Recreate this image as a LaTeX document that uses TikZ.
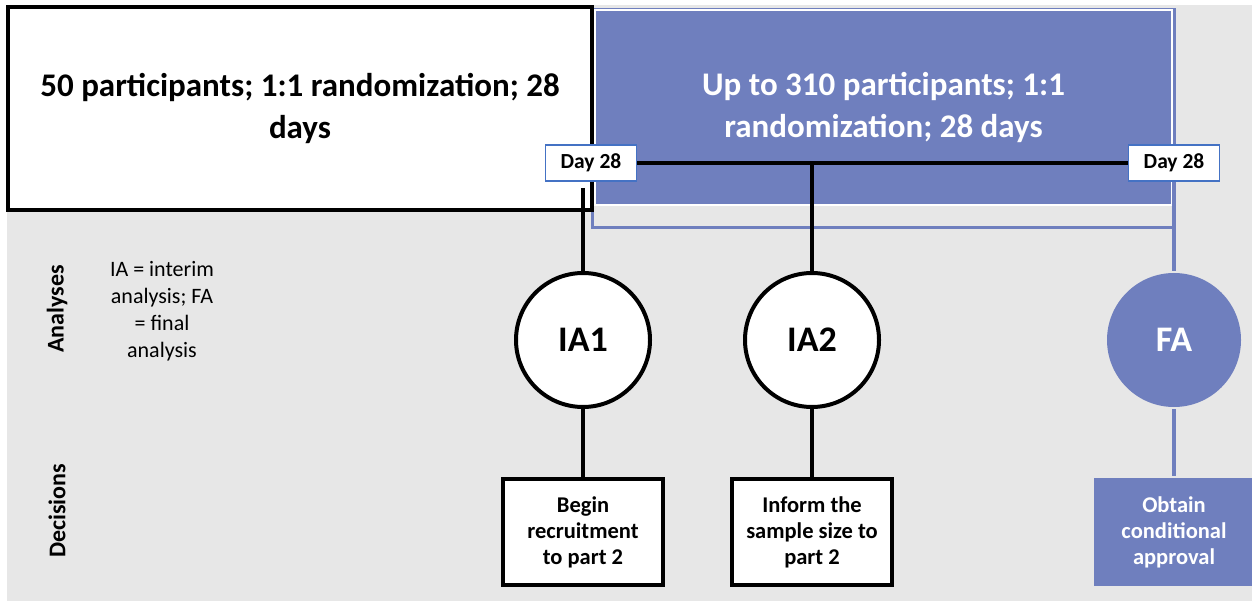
\documentclass[tikz,border=0pt]{standalone}
\usepackage{fontspec}
\setmainfont{Carlito}
\definecolor{partblue}{RGB}{111,127,190}
\definecolor{panelgray}{RGB}{231,231,231}
\definecolor{dayblue}{RGB}{68,114,196}

\begin{document}
\begin{tikzpicture}[x=1pt,y=-1pt,
  part node/.style={draw, line width=4pt, fill=white, minimum width=584, minimum height=203, inner sep=0, align=center, font=\bfseries\fontsize{33}{42}\selectfont},
  blue part node/.style={draw=white, line width=1.5pt, fill=partblue, text=white, minimum width=577, minimum height=195, inner sep=0, align=center, font=\bfseries\fontsize{33}{42}\selectfont},
  day node/.style={draw=dayblue, line width=1.2pt, fill=white, minimum width=91, minimum height=36, inner sep=0, font=\bfseries\fontsize{21.5}{25}\selectfont},
  main node/.style={circle, draw, line width=4pt, fill=white, minimum size=134, inner sep=0, font=\bfseries\fontsize{36}{40}\selectfont},
  dec node/.style={draw, line width=4pt, fill=white, minimum width=160, minimum height=106, inner sep=0, align=center, font=\bfseries\fontsize{22.5}{26}\selectfont},
  side node/.style={rotate=90, font=\bfseries\fontsize{24}{28}\selectfont},
  black line/.style={draw=black, line width=4pt},
  blue line/.style={draw=partblue, line width=4pt}]

  \useasboundingbox (0,0) rectangle (1252,609);
  \fill[white] (0,0) rectangle (1252,609);
  \fill[panelgray] (7,5) rectangle (1252,601);

  % parts of the study
  \draw[partblue, line width=3pt] (592,10) rectangle (1174,228);
  \node[blue part node] (part2) at (883.5,107.5) {Up to 310 participants; 1:1\\randomization; 28 days};
  \node[part node] (part1) at (300,108.5) {50 participants; 1:1 randomization; 28\\days};

  \node[day node] (day1) at (591,163) {Day 28};
  \node[day node] (day2) at (1174,163) {Day 28};

  % analyses
  \node[main node] (ia1) at (583,340) {IA1};
  \node[main node] (ia2) at (812,340) {IA2};
  \node[main node, draw=none, fill=partblue, text=white] (fa) at (1174,340) {FA};

  % decisions
  \node[dec node] (dec1) at (583,532) {Begin\\recruitment\\to part 2};
  \node[dec node] (dec2) at (812,532) {Inform the\\sample size to\\part 2};
  \node[dec node, draw=none, fill=partblue, text=white, minimum width=160, minimum height=108] (dec3) at (1174,532) {Obtain\\conditional\\approval};

  \node[side node] (analyses) at (57,309) {Analyses};
  \node[side node] (decisions) at (57,511) {Decisions};
  \node[align=center, font=\fontsize{22}{27}\selectfont] (legend) at (162,311) {IA = interim\\analysis; FA\\= final\\analysis};

  \coordinate (j1) at (583,188);
  \coordinate (j2) at (812,163);

  \draw[black line] (day1) -- (day2);
  \draw[black line] (j1) -- (ia1);
  \draw[black line] (j2) -- (ia2);
  \draw[blue line] (day2) -- (fa);
  \draw[black line] (ia1) -- (dec1);
  \draw[black line] (ia2) -- (dec2);
  \draw[blue line] (fa) -- (dec3);
\end{tikzpicture}
\end{document}
